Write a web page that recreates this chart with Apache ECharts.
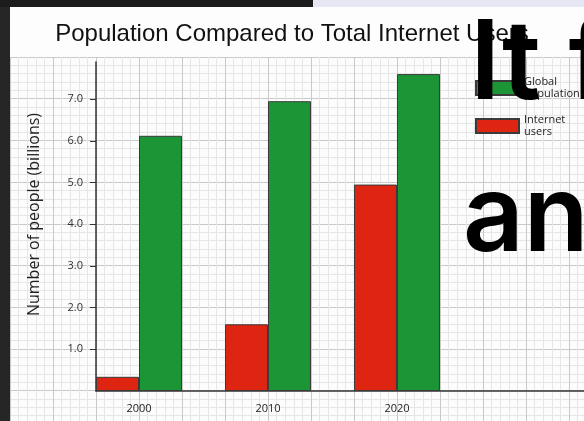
<!DOCTYPE html>
<html>
<head>
<meta charset="utf-8">
<script src="https://cdn.jsdelivr.net/npm/echarts@6/dist/echarts.min.js"></script>
<style>
  html, body { margin: 0; padding: 0; background: #262626; }
  #chart { width: 584px; height: 421px; }
</style>
</head>
<body>
<div id="chart"></div>
<script>
// chart data
const years = [2000, 2010, 2020]
const internetUsers = [0.34, 1.6, 4.95]
const globalPopulation = [6.12, 6.95, 7.6]
const yTicks = [1, 2, 3, 4, 5, 6, 7]

const chart = echarts.init(document.getElementById('chart'))
const labelFont = '"Open Sans", sans-serif'

const option = {
  backgroundColor: '#262626',
  animation: false,
  title: {
    text: 'Population Compared to Total Internet Users',
    left: 'center',
    top: 17,
    textStyle: {
      fontFamily: '"Liberation Sans", Arial, sans-serif',
      fontSize: 24,
      fontWeight: 'normal',
      color: '#111'
    }
  },
  legend: {
    orient: 'vertical',
    left: 470,
    top: 71,
    itemWidth: 43,
    itemHeight: 14,
    itemGap: 14,
    icon: 'rect',
    data: ['Global population', 'Internet users'],
    formatter: function (name) {
      return name.replace(' ', '\n')
    },
    textStyle: {
      fontFamily: labelFont,
      fontSize: 11,
      lineHeight: 12,
      color: '#222'
    }
  },
  grid: [
    // main plot
    { left: 96, right: 0, top: 62, bottom: 30, containLabel: false },
    // graph paper behind it
    { left: 10, right: 0, top: 57, bottom: 0, z: 0, show: true, backgroundColor: '#fcfcfc', borderWidth: 0 }
  ],
  xAxis: [
    {
      type: 'value',
      gridIndex: 0,
      min: 2000 - 10 / 3,
      max: 2034.5,
      axisLine: { show: true, lineStyle: { color: '#333', width: 1.5 } },
      axisTick: { show: false },
      splitLine: { show: false },
      axisLabel: {
        customValues: years,
        margin: 12,
        fontFamily: labelFont,
        fontSize: 11,
        color: '#222',
        formatter: function (v) { return String(v) }
      }
    },
    {
      type: 'value',
      gridIndex: 1,
      min: 0,
      max: 574,
      interval: 43,
      axisLine: { show: false },
      axisTick: { show: false },
      axisLabel: { show: false },
      minorTick: { show: false, splitNumber: 5 },
      splitLine: { show: true, lineStyle: { color: '#c9c9c9', width: 1 } },
      minorSplitLine: { show: true, lineStyle: { color: '#e6e6e6', width: 1 } }
    }
  ],
  yAxis: [
    {
      type: 'value',
      gridIndex: 0,
      min: 0,
      max: 7.89,
      name: 'Number of people (billions)',
      nameLocation: 'middle',
      nameGap: 54,
      nameTextStyle: {
        fontFamily: labelFont,
        fontSize: 16,
        color: '#222',
        padding: [0, 0, 0, 24]
      },
      axisLine: { show: true, lineStyle: { color: '#333', width: 1.5 } },
      axisTick: { show: true, customValues: yTicks, length: 6, lineStyle: { color: '#333' } },
      splitLine: { show: false },
      axisLabel: {
        customValues: yTicks,
        margin: 13,
        fontFamily: labelFont,
        fontSize: 11,
        color: '#333',
        formatter: function (v) { return v.toFixed(1) }
      }
    },
    {
      type: 'value',
      gridIndex: 1,
      inverse: true,
      min: 0,
      max: 364,
      interval: 41.7,
      axisLine: { show: false },
      axisTick: { show: false },
      axisLabel: { show: false },
      minorTick: { show: false, splitNumber: 5 },
      splitLine: { show: true, lineStyle: { color: '#c9c9c9', width: 1 } },
      minorSplitLine: { show: true, lineStyle: { color: '#e6e6e6', width: 1 } }
    }
  ],
  series: [
    {
      name: 'Internet users',
      type: 'bar',
      xAxisIndex: 0,
      yAxisIndex: 0,
      barWidth: 43,
      barGap: '0%',
      data: years.map((y, i) => [y, internetUsers[i]]),
      itemStyle: { color: '#dd2511', borderColor: '#3a3a3a', borderWidth: 1 },
      z: 3
    },
    {
      name: 'Global population',
      type: 'bar',
      xAxisIndex: 0,
      yAxisIndex: 0,
      barWidth: 43,
      barGap: '0%',
      data: years.map((y, i) => [y, globalPopulation[i]]),
      itemStyle: { color: '#1b9535', borderColor: '#3a3a3a', borderWidth: 1 },
      z: 3
    }
  ],
  graphic: [
    // white title band and the strip above it
    { type: 'rect', left: 10, top: 7, shape: { width: 574, height: 50 }, style: { fill: '#fdfdfd' }, z: -10 },
    { type: 'rect', left: 0, top: 0, shape: { width: 313, height: 7 }, style: { fill: '#1c1c1c' }, z: -10 },
    { type: 'rect', left: 313, top: 0, shape: { width: 271, height: 7 }, style: { fill: '#e6e6f4' }, z: -10 },
    // caption text over the picture
    {
      type: 'text', x: 470, y: 121, z: 100,
      style: { text: 'It f', fill: '#000', font: '600 110px Inter, sans-serif', verticalAlign: 'bottom', lineHeight: 110 }
    },
    {
      type: 'text', x: 463, y: 274, z: 100,
      style: { text: 'an', fill: '#000', font: '600 106px Inter, sans-serif', verticalAlign: 'bottom', lineHeight: 110 }
    }
  ]
}

option && chart.setOption(option)
</script>
</body>
</html>
